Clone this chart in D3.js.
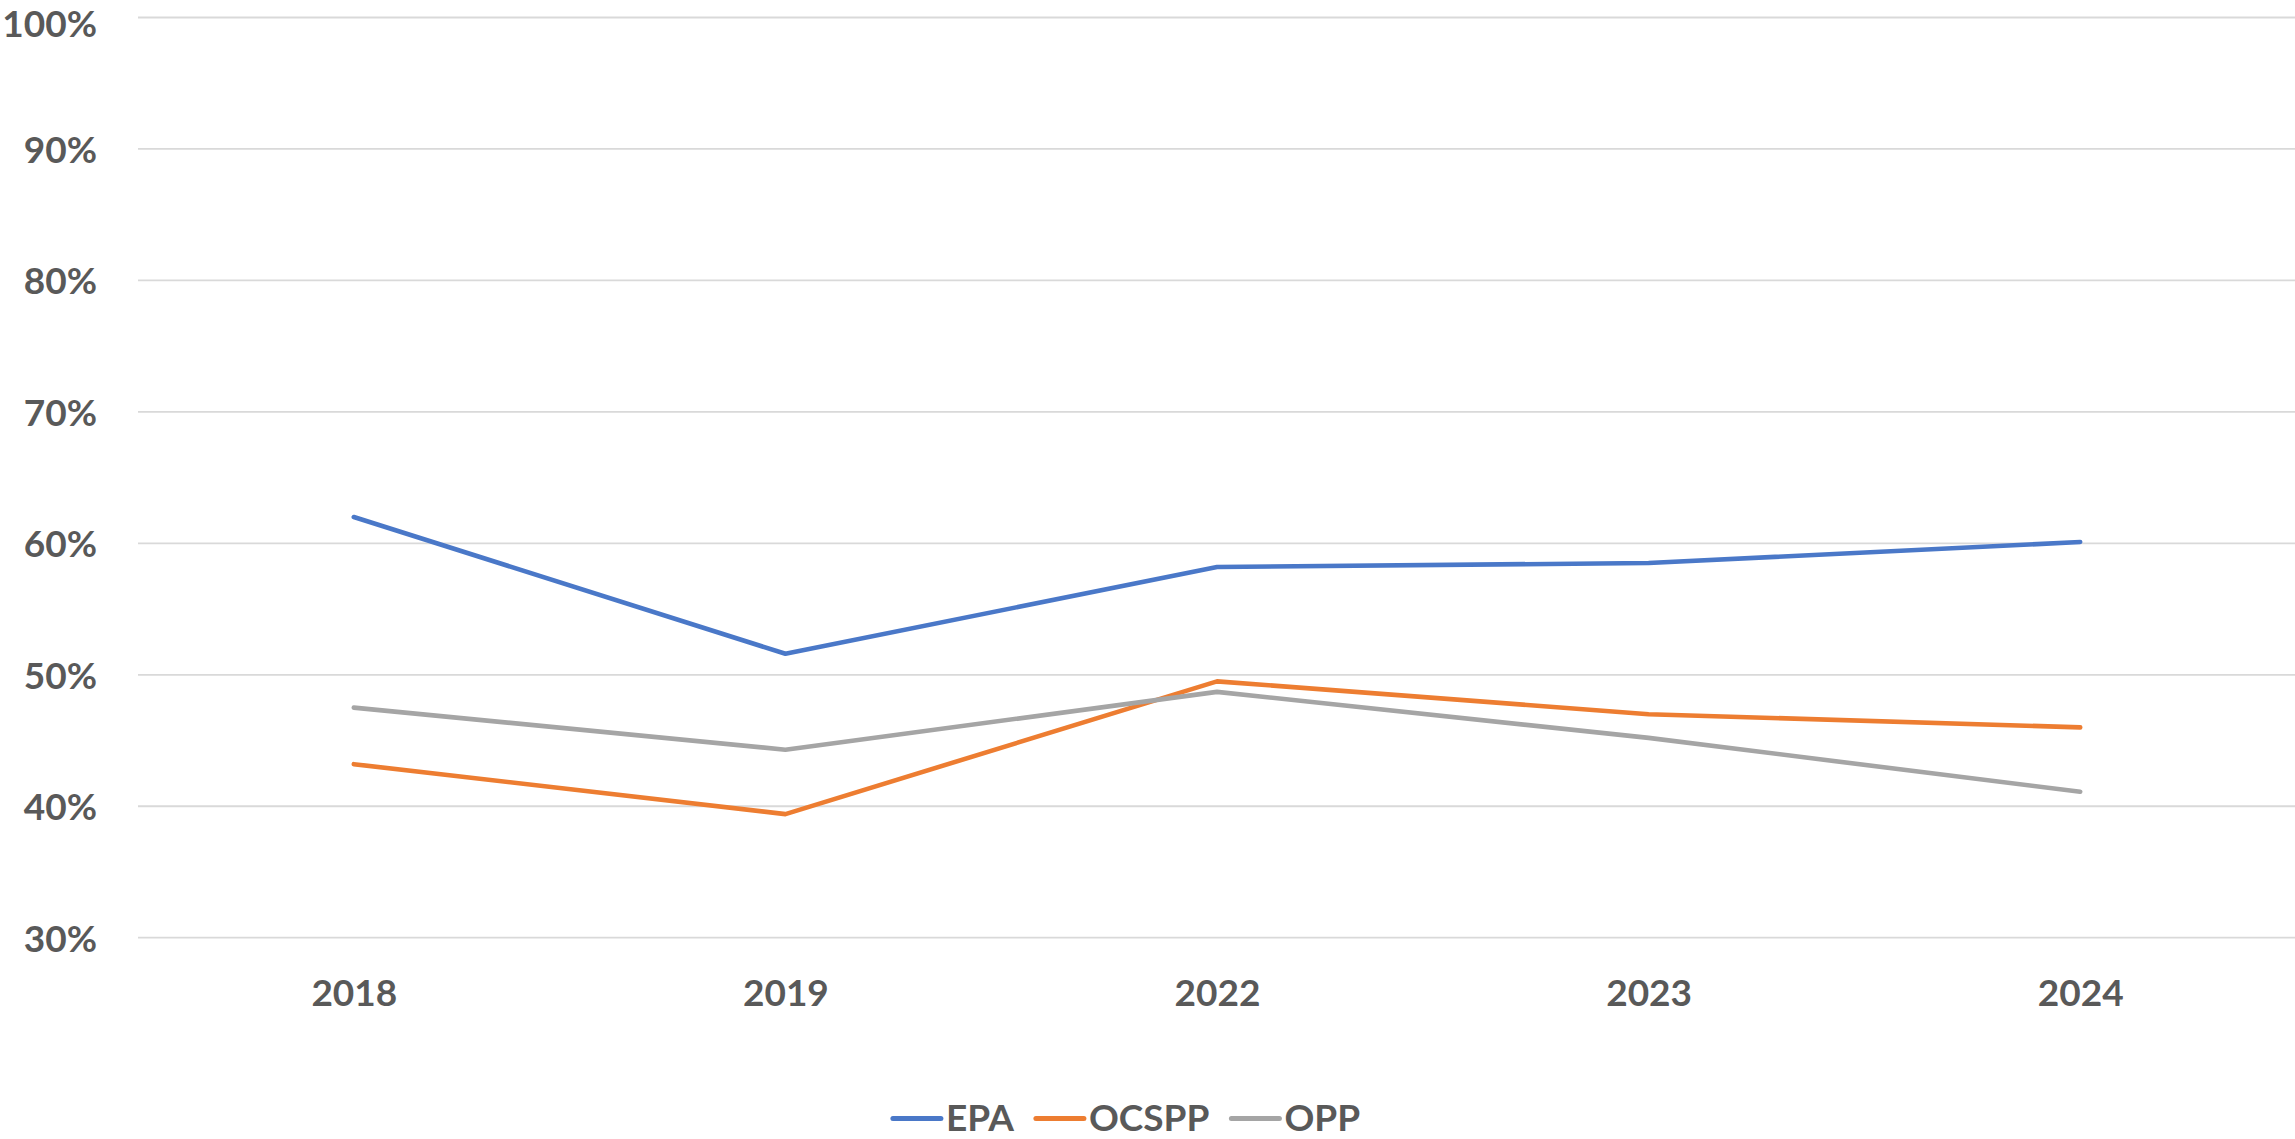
<!DOCTYPE html>
<html>
<head>
<meta charset="utf-8">
<script src="https://d3js.org/d3.v7.min.js"></script>
<style>
  html, body { margin: 0; padding: 0; background: #fff; }
  svg { display: block; }
  text { font-family: Lato, "Open Sans", sans-serif; font-weight: 700; fill: #595959; }
</style>
</head>
<body>
<svg id="chart" width="2295" height="1139"></svg>
<script>
const categories = ["2018", "2019", "2022", "2023", "2024"];
const seriesNames = ["EPA", "OCSPP", "OPP"];
const epaValues = [62.0, 51.6, 58.2, 58.5, 60.1];
const ocsppValues = [43.2, 39.4, 49.5, 47.0, 46.0];
const oppValues = [47.5, 44.3, 48.7, 45.2, 41.1];
const seriesColors = ["#4A78C8", "#ED7D31", "#A5A5A5"];
const yTicks = [30, 40, 50, 60, 70, 80, 90, 100];

const series = [
  { name: seriesNames[0], values: epaValues, color: seriesColors[0] },
  { name: seriesNames[1], values: ocsppValues, color: seriesColors[1] },
  { name: seriesNames[2], values: oppValues, color: seriesColors[2] }
];

const W = 2295, H = 1139;
const svg = d3.select("#chart");
const plotLeft = 138, plotRight = 2296, plotTop = 17.5, plotBottom = 937.7;
const fontSize = 37;

const x = d3.scalePoint().domain(categories).range([plotLeft, plotRight]).padding(0.5);
const y = d3.scaleLinear().domain([30, 100]).range([plotBottom, plotTop]);

// gridlines
svg.append("g").selectAll("line").data(yTicks).join("line")
  .attr("x1", plotLeft).attr("x2", W)
  .attr("y1", d => y(d)).attr("y2", d => y(d))
  .attr("stroke", "#D9D9D9").attr("stroke-width", 1.8);

// y axis labels
const yAxis = d3.axisLeft(y).tickValues(yTicks).tickFormat(d => d + "%").tickSize(0).tickPadding(0);
const yg = svg.append("g").attr("transform", "translate(97,0)").call(yAxis);
yg.select(".domain").remove();
yg.attr("font-family", null).attr("font-size", null);
yg.selectAll("text").attr("font-size", fontSize).attr("dy", null).attr("y", 13.3)
  .style("font-family", "Lato, 'Open Sans', sans-serif").style("font-weight", 700).style("fill", "#595959");
// keep labels inside the picture
yg.selectAll("text").each(function() {
  const b = this.getBBox();
  const t = d3.select(this.parentNode).attr("transform");
  const ty = +/translate\([^,]+,\s*([-\d.]+)\)/.exec(t)[1];
  const top = ty + b.y;
  if (top < 0) d3.select(this).attr("y", 13.3 - top);
});

// x axis labels
const xAxis = d3.axisBottom(x).tickSize(0).tickPadding(0);
const xg = svg.append("g").attr("transform", "translate(0,1006)").call(xAxis);
xg.select(".domain").remove();
xg.attr("font-family", null).attr("font-size", null);
xg.selectAll("text").attr("font-size", fontSize).attr("dy", null).attr("y", 0)
  .style("font-family", "Lato, 'Open Sans', sans-serif").style("font-weight", 700).style("fill", "#595959");

// lines
const line = d3.line().x((d, i) => x(categories[i])).y(d => y(d));
svg.append("g").selectAll("path").data(series).join("path")
  .attr("d", d => line(d.values))
  .attr("fill", "none")
  .attr("stroke", d => d.color)
  .attr("stroke-width", 4.6)
  .attr("stroke-linecap", "round")
  .attr("stroke-linejoin", "round");

// legend
const legend = svg.append("g");
const items = legend.selectAll("g").data(series).join("g");
items.append("line").attr("x1", 0).attr("x2", 48).attr("y1", 0).attr("y2", 0)
  .attr("stroke", d => d.color).attr("stroke-width", 5).attr("stroke-linecap", "round");
items.append("text").attr("x", 53).attr("y", 12.5).attr("font-size", fontSize).text(d => d.name);
let pos = 0;
const offsets = [];
const gap = 22;
items.each(function() {
  offsets.push(pos);
  const w = d3.select(this).select("text").node().getComputedTextLength();
  pos += 53 + w + gap;
});
const total = pos - gap;
const startX = 1126.5 - total / 2;
let legendY = 1121.7;
const lb = items.select("text").node().getBBox();
if (legendY + lb.y + lb.height > H) legendY = H - (lb.y + lb.height);
items.attr("transform", (d, i) => `translate(${startX + offsets[i]},${legendY})`);
</script>
</body>
</html>
